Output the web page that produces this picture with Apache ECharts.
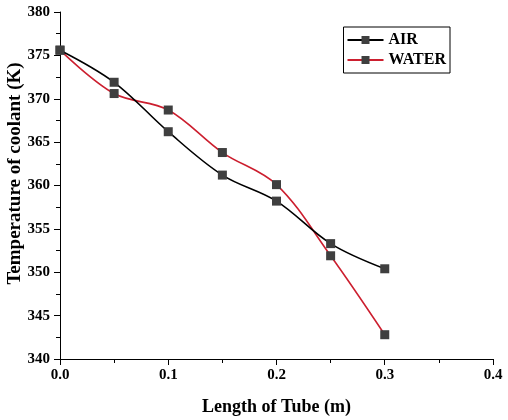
<!DOCTYPE html>
<html>
<head>
<meta charset="utf-8">
<script src="https://cdn.jsdelivr.net/npm/echarts@6/dist/echarts.min.js"></script>
<style>
  html, body { margin: 0; padding: 0; background: #fff; }
  #chart { width: 508px; height: 420px; }
</style>
</head>
<body>
<div id="chart"></div>
<script>
// tube length (m)
var lengths = [0, 0.05, 0.1, 0.15, 0.2, 0.25, 0.3];
// coolant temperature (K)
var airTemp = [375.6, 371.9, 366.2, 361.2, 358.2, 353.3, 350.4];
var waterTemp = [375.6, 370.6, 368.7, 363.8, 360.1, 351.9, 342.8];

function pairs(xs, ys) {
  return xs.map(function (x, i) { return [x, ys[i]]; });
}

var font = 'Liberation Serif, Times New Roman, serif';
var chart = echarts.init(document.getElementById('chart'));

chart.setOption({
  animation: false,
  textStyle: { fontFamily: font },
  grid: { left: 60, right: 15, top: 12, bottom: 61, outerBoundsMode: 'none', containLabel: false },
  legend: {
    right: 58, top: 27,
    orient: 'vertical',
    itemWidth: 36, itemHeight: 10, itemGap: 4,
    padding: [5, 4, 5, 3],
    borderColor: '#000', borderWidth: 1,
    textStyle: { fontFamily: font, fontWeight: 'bold', fontSize: 16, color: '#000' },
    data: ['AIR', 'WATER']
  },
  xAxis: {
    type: 'value', min: 0, max: 0.4, interval: 0.1,
    name: 'Length of Tube (m)', nameLocation: 'middle', nameGap: 39,
    nameMoveOverlap: false,
    nameTextStyle: { fontFamily: font, fontWeight: 'bold', fontSize: 18, color: '#000' },
    axisLine: { show: true, lineStyle: { color: '#000', width: 1 } },
    axisTick: { show: true, inside: false, length: 6, lineStyle: { color: '#000' } },
    minorTick: { show: true, splitNumber: 2, length: 4, lineStyle: { color: '#000' } },
    splitLine: { show: false },
    axisLabel: {
      fontFamily: font, fontWeight: 'bold', fontSize: 15, color: '#000', margin: 9,
      formatter: function (v) { return v.toFixed(1); }
    }
  },
  yAxis: {
    type: 'value', min: 340, max: 380, interval: 5,
    name: 'Temperature of coolant (K)', nameLocation: 'middle', nameGap: 35,
    nameMoveOverlap: false,
    nameTextStyle: { fontFamily: font, fontWeight: 'bold', fontSize: 19, color: '#000', padding: [0, 0, 0, 24] },
    axisLine: { show: true, lineStyle: { color: '#000', width: 1 } },
    axisTick: { show: true, inside: false, length: 6, lineStyle: { color: '#000' } },
    minorTick: { show: true, splitNumber: 2, length: 4, lineStyle: { color: '#000' } },
    splitLine: { show: false },
    axisLabel: { fontFamily: font, fontWeight: 'bold', fontSize: 15, color: '#000', margin: 10 }
  },
  series: [
    {
      name: 'AIR', type: 'line', smooth: 0.35,
      data: pairs(lengths, airTemp),
      symbol: 'rect', symbolSize: 9,
      lineStyle: { color: '#000', width: 1.6 },
      itemStyle: { color: '#3f3f3f', borderWidth: 0 },
      z: 3
    },
    {
      name: 'WATER', type: 'line', smooth: 0.35,
      data: pairs(lengths, waterTemp),
      symbol: 'rect', symbolSize: 9,
      lineStyle: { color: '#cc1f2f', width: 1.6 },
      itemStyle: { color: '#3f3f3f', borderWidth: 0 },
      z: 2
    }
  ]
});
</script>
</body>
</html>
